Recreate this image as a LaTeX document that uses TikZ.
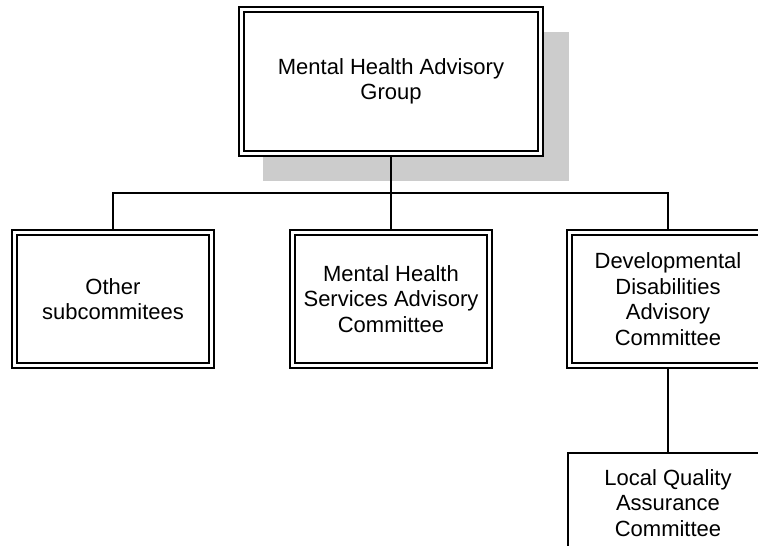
\documentclass[tikz,border=0pt]{standalone}
\usepackage{fontspec}
\setmainfont{Liberation Sans}
\begin{document}
\begin{tikzpicture}[x=1pt,y=-1pt,line width=1.9pt,
  unit/.style={draw,fill=white,double,double distance=2.6pt,align=center,
    inner sep=0pt,outer sep=3pt,minimum width=197pt,minimum height=133pt,
    font=\fontsize{22}{25.5}\selectfont},
  leaf/.style={draw,fill=white,align=center,inner sep=0pt,anchor=north,
    minimum width=200pt,minimum height=100pt,
    font=\fontsize{22}{25.5}\selectfont}]
\useasboundingbox (0,0) rectangle (758,546);
\clip (0,0) rectangle (758,546);
% ---- grey shadow behind the advisory group ----
\fill[gray!40] (263,32) rectangle (569,181);
% ---- advisory group ----
\node[unit,minimum width=299pt,minimum height=144pt] (mhag) at (391,81.5)
  {Mental Health Advisory\\Group};
% ---- subcommittees ----
\foreach \n/\x/\t in {
  osub/113/{Other\\subcommitees},
  mhsac/391/{Mental Health\\Services Advisory\\Committee},
  ddac/668/{Developmental\\Disabilities\\Advisory\\Committee}%
}{
  \node[unit] (\n) at (\x,299) {\t};
}
\node[leaf] (lqac) at (668,452) {Local Quality\\Assurance\\Committee};
% ---- connectors ----
\coordinate (bus) at (391,193);
\draw (mhag) -- (bus);
\draw (osub.north) |- (bus) -| (ddac.north);
\draw (bus) -- (mhsac);
\draw (ddac) -- (lqac);
\end{tikzpicture}
\end{document}
